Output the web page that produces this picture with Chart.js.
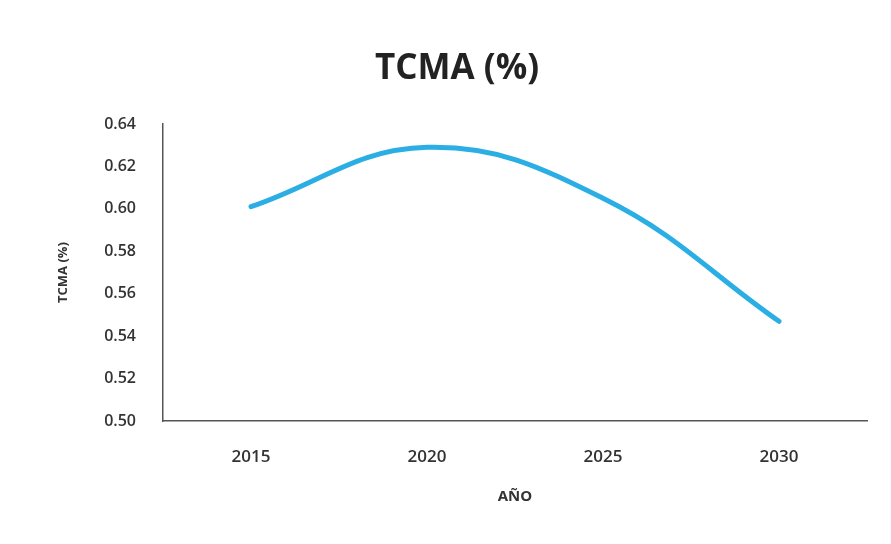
<!DOCTYPE html>
<html>
<head>
<meta charset="utf-8">
<script src="https://cdn.jsdelivr.net/npm/chart.js@4.4.1/dist/chart.umd.min.js"></script>
<style>
  html, body { margin: 0; padding: 0; background: #fff; }
  #wrap { width: 891px; height: 544px; }
</style>
</head>
<body>
<div id="wrap"><canvas id="tcma"></canvas></div>
<script>
// data
var years = ['2015', '2020', '2025', '2030'];
var tcma = [0.601, 0.629, 0.605, 0.547];
var yMin = 0.50, yMax = 0.64, yStep = 0.02;

var ctx = document.getElementById('tcma').getContext('2d');
var myChart = new Chart(ctx, {
    type: 'line',
    data: {
        labels: years,
        datasets: [{
            label: 'TCMA (%)',
            data: tcma,
            borderColor: '#2aaee4',
            borderWidth: 5,
            borderCapStyle: 'round',
            pointRadius: 0,
            tension: 0.4,
            fill: false
        }]
    },
    options: {
        responsive: true,
        maintainAspectRatio: false,
        animation: false,
        // left padding pushes the title centre to the right like the original
        layout: { padding: { left: 47, right: 24, top: 0, bottom: 23 } },
        plugins: {
            legend: { display: false },
            tooltip: { enabled: false },
            title: {
                display: true,
                text: 'TCMA (%)',
                color: '#222',
                font: { family: 'Open Sans', size: 35, weight: 'bold' },
                padding: { top: 48, bottom: 34 }
            }
        },
        scales: {
            x: {
                offset: true,
                grid: { display: false, drawTicks: false },
                border: { color: '#555', width: 1.5 },
                ticks: {
                    color: '#333',
                    font: { family: 'Open Sans', size: 17, weight: '600' },
                    padding: 26
                },
                title: {
                    display: true,
                    text: 'AÑO',
                    color: '#333',
                    font: { family: 'Open Sans', size: 15, weight: 'bold' },
                    padding: { top: 4, bottom: 15 }
                },
                afterFit: function (scale) { scale.height = 100; }
            },
            y: {
                min: yMin,
                max: yMax,
                grid: { display: false, drawTicks: false },
                border: { color: '#555', width: 1.5 },
                ticks: {
                    stepSize: yStep,
                    color: '#333',
                    font: { family: 'Open Sans', size: 16, weight: '600' },
                    padding: 27,
                    callback: function (v) { return v.toFixed(2); }
                },
                title: {
                    display: true,
                    text: 'TCMA (%)',
                    color: '#333',
                    font: { family: 'Open Sans', size: 13, weight: 'bold' },
                    padding: { top: 8, bottom: 4 }
                },
                afterFit: function (scale) { scale.width = 116; }
            }
        }
    }
});
</script>
</body>
</html>
